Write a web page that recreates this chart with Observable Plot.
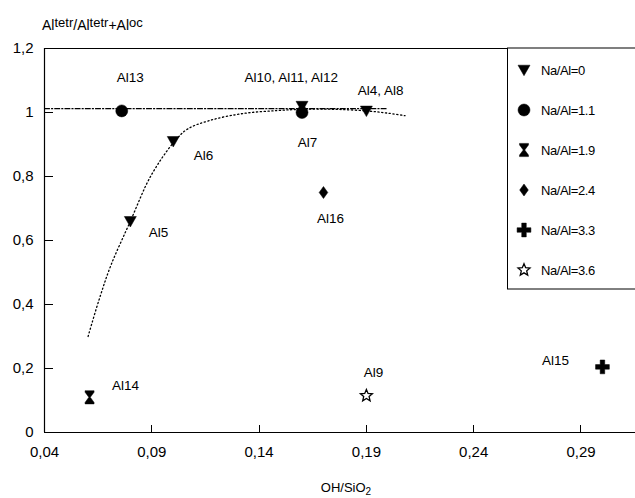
<!DOCTYPE html>
<html>
<head>
<meta charset="utf-8">
<script src="https://cdn.jsdelivr.net/npm/d3@7"></script>
<script src="https://cdn.jsdelivr.net/npm/@observablehq/plot@0.6"></script>
<style>
  html, body { margin: 0; padding: 0; background: white; }
  #chart { width: 635px; height: 498px; }
</style>
</head>
<body>
<div id="chart"></div>
<script>
// ---- Data ----
const series = ["Na/Al=0", "Na/Al=1.1", "Na/Al=1.9", "Na/Al=2.4", "Na/Al=3.3", "Na/Al=3.6"];
const pointSeries = ["Na/Al=0", "Na/Al=0", "Na/Al=0", "Na/Al=0", "Na/Al=1.1", "Na/Al=1.1", "Na/Al=1.9", "Na/Al=2.4", "Na/Al=3.3", "Na/Al=3.6"];
const pointX = [0.080, 0.100, 0.160, 0.190, 0.076, 0.160, 0.061, 0.170, 0.300, 0.190];
const pointY = [0.66, 0.91, 1.02, 1.005, 1.005, 1.0, 0.11, 0.75, 0.205, 0.115];

const labelNames = ["Al13", "Al10, Al11, Al12", "Al4, Al8", "Al7", "Al6", "Al5", "Al16", "Al14", "Al9", "Al15"];
const labelX = [0.080, 0.155, 0.1966, 0.1626, 0.1141, 0.0931, 0.1733, 0.0777, 0.1933, 0.2781];
const labelY = [1.109, 1.109, 1.069, 0.906, 0.866, 0.625, 0.669, 0.147, 0.1875, 0.225];

const curveX = [0.0603, 0.0652, 0.0708, 0.080, 0.0894, 0.100, 0.1066, 0.117, 0.1327, 0.1486, 0.160, 0.175, 0.190, 0.200, 0.208];
const curveY = [0.30, 0.41, 0.52, 0.66, 0.80, 0.905, 0.948, 0.975, 0.997, 1.006, 1.01, 1.01, 1.005, 0.998, 0.99];

const refX = [0.04, 0.2];
const refY = [1.012, 1.012];

const xTicks = [0.04, 0.09, 0.14, 0.19, 0.24, 0.29];
const yTicks = [0, 0.2, 0.4, 0.6, 0.8, 1, 1.2];

// ---- Symbols ----
const R = s => Math.sqrt(s / Math.PI);
const symTriDown = {draw(c, s) { const r = R(s); c.moveTo(-r, -0.8 * r); c.lineTo(r, -0.8 * r); c.lineTo(0, 0.95 * r); c.closePath(); }};
const symCircle = {draw(c, s) { const r = R(s); c.moveTo(r, 0); c.arc(0, 0, r, 0, 2 * Math.PI); }};
const symHour = {draw(c, s) { const r = R(s);
  c.moveTo(-0.75 * r, -1.1 * r); c.lineTo(0.75 * r, -1.1 * r); c.lineTo(0.75 * r, -0.85 * r); c.lineTo(0.12 * r, 0); c.lineTo(0.75 * r, 0.85 * r); c.lineTo(0.75 * r, 1.1 * r);
  c.lineTo(-0.75 * r, 1.1 * r); c.lineTo(-0.75 * r, 0.85 * r); c.lineTo(-0.12 * r, 0); c.lineTo(-0.75 * r, -0.85 * r); c.closePath(); }};
const symDiamond = {draw(c, s) { const r = R(s); c.moveTo(0, -r); c.lineTo(0.72 * r, 0); c.lineTo(0, r); c.lineTo(-0.72 * r, 0); c.closePath(); }};
const symCross = {draw(c, s) { const r = R(s) * 1.15, w = R(s) * 0.38;
  c.moveTo(-w, -r); c.lineTo(w, -r); c.lineTo(w, -w); c.lineTo(r, -w); c.lineTo(r, w); c.lineTo(w, w); c.lineTo(w, r);
  c.lineTo(-w, r); c.lineTo(-w, w); c.lineTo(-r, w); c.lineTo(-r, -w); c.lineTo(-w, -w); c.closePath(); }};
const symStar = {draw(c, s) { const r = R(s) * 1.05, ri = r * 0.45;
  for (let i = 0; i < 10; i++) { const a = -Math.PI / 2 + i * Math.PI / 5; const rr = i % 2 ? ri : r;
    const px = rr * Math.cos(a), py = rr * Math.sin(a); if (i === 0) c.moveTo(px, py); else c.lineTo(px, py); }
  c.closePath(); }};
const symbols = [symTriDown, symCircle, symHour, symDiamond, symCross, symStar];
const fills = ["black", "black", "black", "black", "black", "white"];

// ---- Tables ----
const points = pointX.map((x, i) => ({x, y: pointY[i], s: pointSeries[i]}));
const labels = labelNames.map((t, i) => ({t, x: labelX[i], y: labelY[i]}));
const curve = curveX.map((x, i) => ({x, y: curveY[i]}));
const ref = refX.map((x, i) => ({x, y: refY[i]}));
const comma = d => String(+d.toFixed(2)).replace(".", ",");

const dotMarks = series.map((name, k) =>
  Plot.dot(points.filter(d => d.s === name), {x: "x", y: "y", r: 6, symbol: symbols[k], fill: fills[k], stroke: "black", strokeWidth: k === 5 ? 1.3 : 0.5})
);

const chart = Plot.plot({
  width: 635,
  height: 498,
  marginLeft: 44,
  marginRight: 0,
  marginTop: 48,
  marginBottom: 66,
  style: {fontFamily: "'Liberation Sans', Arial, sans-serif", fontSize: "15px", background: "white", color: "black"},
  x: {domain: [0.04, 0.3154], ticks: xTicks, tickFormat: d => d3.format(".2f")(d).replace(".", ","), tickSize: 0, tickPadding: 14, label: null},
  y: {domain: [0, 1.2], ticks: yTicks, tickFormat: comma, tickSize: 0, tickPadding: 11, label: null},
  marks: [
    Plot.ruleY([0], {stroke: "black", strokeWidth: 1.2}),
    Plot.ruleY([1.2], {stroke: "black", strokeWidth: 1}),
    Plot.ruleX([0.04], {stroke: "black", strokeWidth: 1.2}),
    Plot.line(ref, {x: "x", y: "y", stroke: "black", strokeWidth: 1.1, strokeDasharray: "5,2,1.2,2"}),
    Plot.line(curve, {x: "x", y: "y", curve: "catmull-rom", stroke: "black", strokeWidth: 1.3, strokeDasharray: "1.2,2.6"}),
    ...dotMarks,
    Plot.text(labels, {x: "x", y: "y", text: "t", fontSize: 13.5, fill: "black"})
  ]
});

document.getElementById("chart").appendChild(chart);

// ---- Inward ticks, titles, legend (using the plot's scales) ----
const svg = d3.select(chart);
const sx = chart.scale("x"), sy = chart.scale("y");
const x0 = sx.apply(0.04), y0 = sy.apply(0);
const tg = svg.append("g").attr("stroke", "black").attr("stroke-width", 1);
yTicks.filter(v => v > 0 && v < 1.2).forEach(v => {
  const yy = Math.round(sy.apply(v)) + 0.5;
  tg.append("line").attr("x1", x0).attr("x2", x0 + 9).attr("y1", yy).attr("y2", yy);
});
xTicks.filter(v => v > 0.04).forEach(v => {
  const xx = Math.round(sx.apply(v)) + 0.5;
  tg.append("line").attr("x1", xx).attr("x2", xx).attr("y1", y0).attr("y2", y0 - 7);
});

const FONT = "'Liberation Sans', Arial, sans-serif";

// y-axis title with superscripts
const yt = svg.append("text").attr("x", 42).attr("y", 30).attr("font-size", 14).attr("fill", "black")
  .attr("text-anchor", "start").attr("font-family", FONT);
[["Al", 0], ["tetr", 1], ["/Al", 0], ["tetr", 1], ["+Al", 0], ["oc", 1]].forEach(([t, sup], i, arr) => {
  const prevSup = i > 0 ? arr[i - 1][1] : 0;
  yt.append("tspan").text(t).attr("font-size", sup ? 13 : 14).attr("dy", sup ? -3 : (prevSup ? 3 : 0));
});

// x-axis title with subscript
const xt = svg.append("text").attr("x", 346).attr("y", 492).attr("text-anchor", "middle").attr("font-size", 13).attr("fill", "black")
  .attr("font-family", FONT);
xt.append("tspan").text("OH/SiO");
xt.append("tspan").text("2").attr("font-size", 10).attr("dy", 3);

// legend
const lg = svg.append("g");
lg.append("rect").attr("x", 507.5).attr("y", sy.apply(1.2)).attr("width", 140).attr("height", 241)
  .attr("fill", "white").attr("stroke", "black").attr("stroke-width", 1);
series.forEach((name, k) => {
  const yy = 70 + k * 40;
  lg.append("path").attr("d", d3.symbol(symbols[k], Math.PI * 36)())
    .attr("transform", `translate(524,${yy})`).attr("fill", fills[k]).attr("stroke", "black").attr("stroke-width", k === 5 ? 1.3 : 0.5);
  lg.append("text").attr("x", 541).attr("y", yy).attr("dy", "0.35em").attr("font-size", 13).attr("fill", "black")
    .attr("text-anchor", "start").attr("font-family", FONT).attr("letter-spacing", -0.4).text(name);
});
</script>
</body>
</html>
